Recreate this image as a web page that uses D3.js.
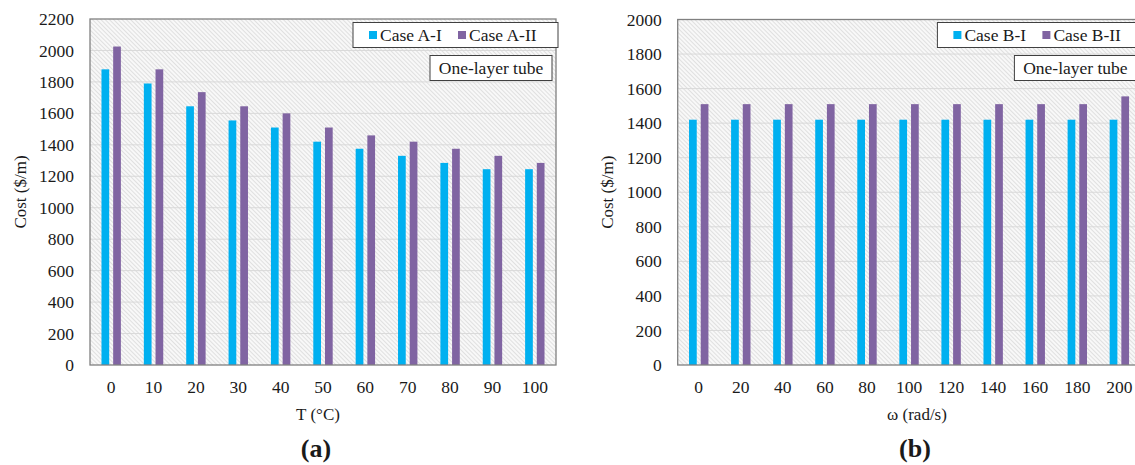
<!DOCTYPE html>
<html>
<head>
<meta charset="utf-8">
<script src="https://cdn.jsdelivr.net/npm/d3@7"></script>
<style>
  body { margin: 0; background: #fff; }
  text { font-family: "Liberation Serif", "Times New Roman", serif; fill: #1a1a1a; }
</style>
</head>
<body>
<div id="chart-area"></div>
<script>
// panel (a): cost vs temperature
var tempLabels = ["0", "10", "20", "30", "40", "50", "60", "70", "80", "90", "100"];
var caseA1 = [1880, 1790, 1645, 1555, 1510, 1420, 1375, 1330, 1285, 1245, 1245];
var caseA2 = [2025, 1880, 1735, 1645, 1600, 1510, 1460, 1420, 1375, 1330, 1285];
var costTicksA = [0, 200, 400, 600, 800, 1000, 1200, 1400, 1600, 1800, 2000, 2200];

// panel (b): cost vs angular speed
var omegaLabels = ["0", "20", "40", "60", "80", "100", "120", "140", "160", "180", "200"];
var caseB1 = [1420, 1420, 1420, 1420, 1420, 1420, 1420, 1420, 1420, 1420, 1420];
var caseB2 = [1510, 1510, 1510, 1510, 1510, 1510, 1510, 1510, 1510, 1510, 1555];
var costTicksB = [0, 200, 400, 600, 800, 1000, 1200, 1400, 1600, 1800, 2000];

var colors = ["#00b0f0", "#8064a2"];

var width = 1135;
var height = 465;

var svg = d3.select("#chart-area")
    .append("svg")
        .attr("width", width)
        .attr("height", height);

// light hatched background used in both plot areas
var defs = svg.append("defs");
var pat = defs.append("pattern")
    .attr("id", "hatch")
    .attr("patternUnits", "userSpaceOnUse")
    .attr("width", 3)
    .attr("height", 3)
    .attr("patternTransform", "rotate(-45)");
pat.append("rect")
    .attr("width", 3).attr("height", 3)
    .attr("fill", "#f8f8f8");
pat.append("line")
    .attr("x1", 0.5).attr("y1", 0)
    .attr("x2", 0.5).attr("y2", 3)
    .attr("stroke", "#e0e0e0")
    .attr("stroke-width", 1);

function drawPanel(p) {
    var x = d3.scaleBand()
        .domain(p.cats)
        .range([p.left, p.right])
        .padding(0);

    var x1 = d3.scaleBand()
        .domain([0, 1])
        .range([0, 19.4])
        .paddingInner(0.34);

    var y = d3.scaleLinear()
        .domain([0, p.max])
        .range([p.bottom, p.top]);

    var g = svg.append("g");

    g.append("rect")
        .attr("x", p.left)
        .attr("y", p.top)
        .attr("width", p.right - p.left)
        .attr("height", p.bottom - p.top)
        .attr("fill", "url(#hatch)");

    // gridlines
    g.selectAll(".grid")
        .data(p.ticks.slice(1, -1))
        .enter()
        .append("line")
            .attr("x1", p.left)
            .attr("x2", p.right)
            .attr("y1", (d) => { return y(d); })
            .attr("y2", (d) => { return y(d); })
            .attr("stroke", "#d9d9d9")
            .attr("stroke-width", 1);

    // bars
    p.series.forEach((vals, s) => {
        g.selectAll(".bar" + s)
            .data(vals)
            .enter()
            .append("rect")
                .attr("x", (d, i) => { return x(p.cats[i]) + x.bandwidth() / 2 - 9.7 + x1(s); })
                .attr("y", (d) => { return y(d); })
                .attr("width", x1.bandwidth())
                .attr("height", (d) => { return p.bottom - y(d); })
                .attr("fill", colors[s]);
    });

    // frame
    g.append("rect")
        .attr("x", p.left)
        .attr("y", p.top)
        .attr("width", p.right - p.left)
        .attr("height", p.bottom - p.top)
        .attr("fill", "none")
        .attr("stroke", "#808080")
        .attr("stroke-width", 1.3);

    var yAxis = d3.axisLeft(y)
        .tickValues(p.ticks)
        .tickFormat(d3.format("d"))
        .tickSize(0)
        .tickPadding(16);
    var ya = g.append("g")
        .attr("transform", "translate(" + p.left + ",0)")
        .call(yAxis);
    ya.select(".domain").remove();
    ya.selectAll("text")
        .attr("font-size", "17.5px");

    var xAxis = d3.axisBottom(x)
        .tickSize(0)
        .tickPadding(15.5);
    var xa = g.append("g")
        .attr("transform", "translate(0," + p.bottom + ")")
        .call(xAxis);
    xa.select(".domain").remove();
    xa.selectAll("text")
        .attr("font-size", "17.5px");

    // axis labels
    g.append("text")
        .attr("x", -(p.top + p.bottom) / 2)
        .attr("y", p.ylabX)
        .attr("font-size", "17px")
        .attr("text-anchor", "middle")
        .attr("transform", "rotate(-90)")
        .text("Cost ($/m)");

    g.append("text")
        .attr("x", p.xlabX)
        .attr("y", 420)
        .attr("font-size", "17px")
        .attr("text-anchor", "middle")
        .text(p.xlab);

    g.append("text")
        .attr("x", p.xlabX - 2)
        .attr("y", 457)
        .attr("font-size", "26px")
        .attr("font-weight", "bold")
        .attr("text-anchor", "middle")
        .text(p.tag);

    // legend
    var lx = p.right - 203;
    g.append("rect")
        .attr("x", lx).attr("y", 22.5)
        .attr("width", 205).attr("height", 25)
        .attr("fill", "#fff")
        .attr("stroke", "#404040")
        .attr("stroke-width", 1);
    p.names.forEach((n, s) => {
        var ox = lx + 16 + s * 89;
        g.append("rect")
            .attr("x", ox).attr("y", 31)
            .attr("width", 8).attr("height", 8)
            .attr("fill", colors[s]);
        g.append("text")
            .attr("x", ox + 11)
            .attr("y", 41)
            .attr("font-size", "17.5px")
            .text(n);
    });

    // annotation box
    g.append("rect")
        .attr("x", p.right - 126).attr("y", 55.5)
        .attr("width", 122).attr("height", 25)
        .attr("fill", "#fff")
        .attr("stroke", "#404040")
        .attr("stroke-width", 1);
    g.append("text")
        .attr("x", p.right - 65)
        .attr("y", 74)
        .attr("font-size", "17.5px")
        .attr("text-anchor", "middle")
        .text("One-layer tube");
}

drawPanel({
    cats: tempLabels, series: [caseA1, caseA2], ticks: costTicksA, max: 2200,
    left: 90, right: 556, top: 19, bottom: 365,
    ylabX: 26, xlab: "T (\u00b0C)", xlabX: 318, tag: "(a)",
    names: ["Case A-I", "Case A-II"]
});

drawPanel({
    cats: omegaLabels, series: [caseB1, caseB2], ticks: costTicksB, max: 2000,
    left: 677.7, right: 1140.4, top: 19.5, bottom: 365,
    ylabX: 613, xlab: "\u03c9 (rad/s)", xlabX: 917, tag: "(b)",
    names: ["Case B-I", "Case B-II"]
});
</script>
</body>
</html>
